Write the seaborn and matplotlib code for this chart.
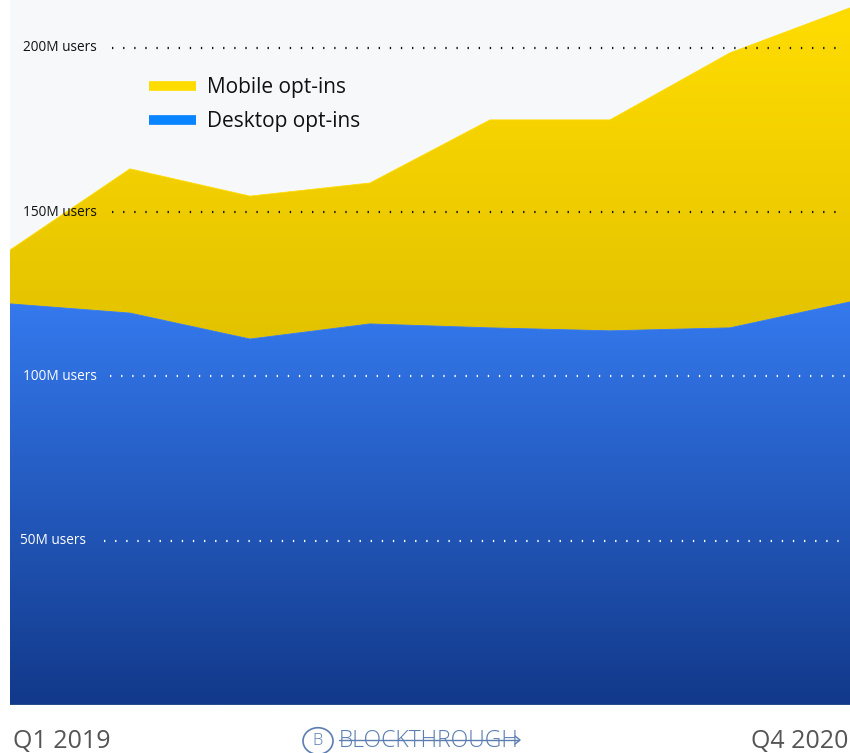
import numpy as np
import matplotlib
matplotlib.use('Agg')
import matplotlib.pyplot as plt
import matplotlib.colors as mcolors
from matplotlib.lines import Line2D
from matplotlib.patches import Circle
import seaborn as sns

# values in millions of users
quarters = ['Q1 2019', 'Q2 2019', 'Q3 2019', 'Q4 2019',
            'Q1 2020', 'Q2 2020', 'Q3 2020', 'Q4 2020']
desktop = [122.1, 119.3, 111.4, 116.0, 114.8, 113.9, 114.8, 122.7]
mobile = [16.4, 43.9, 43.5, 42.9, 63.3, 64.2, 83.7, 89.5]
grid_values = [200, 150, 100, 50]
grid_labels = ['200M users', '150M users', '100M users', '50M users']

sns.set_theme(style='white')
plt.rcParams['font.family'] = ['Open Sans', 'DejaVu Sans']

x = np.arange(len(quarters))
desk = np.array(desktop)
total = desk + np.array(mobile)

fig = plt.figure(figsize=(8.5, 7.53), dpi=100)
ax = fig.add_axes([10 / 850, 48 / 753, 840 / 850, 705 / 753])
ax.set_facecolor('#f7f8fa')
ymax = 214.6
ax.set_xlim(0, len(quarters) - 1)
ax.set_ylim(0, ymax)


def gradient_fill(lower, upper, top_color, bottom_color, y_top, y_bottom):
    poly = ax.fill_between(x, lower, upper, color='none', lw=0)
    n = 256
    ys = np.linspace(ymax, 0, n)
    t = np.clip((y_top - ys) / (y_top - y_bottom), 0, 1)
    c1 = np.array(mcolors.to_rgb(top_color))
    c2 = np.array(mcolors.to_rgb(bottom_color))
    img = (c1[None, :] * (1 - t[:, None]) + c2[None, :] * t[:, None])
    img = np.repeat(img[:, None, :], 2, axis=1)
    im = ax.imshow(img, extent=[0, len(quarters) - 1, 0, ymax],
                   aspect='auto', zorder=1, interpolation='bilinear')
    im.set_clip_path(poly.get_paths()[0], ax.transData)


gradient_fill(desk, total, '#ffdc00', '#e3c200', 212, 112)
gradient_fill(np.zeros_like(desk), desk, '#3479ee', '#12398a', 122, 0)

sns.lineplot(x=x, y=total, ax=ax, color='#ffdc00', lw=0.6, zorder=2)
sns.lineplot(x=x, y=desk, ax=ax, color='#3479ee', lw=0.6, zorder=2)

# dotted gridlines with labels
px = 1 / 840 * (len(quarters) - 1)
label_x = [23, 23, 23, 20]
dot_start = [112, 112, 110, 104]
dot_end = [845, 845, 845, 840]
for v, lab, lx, ds, de in zip(grid_values, grid_labels, label_x, dot_start, dot_end):
    col = '#111111' if v >= 150 else 'white'
    ax.plot([(ds - 10) * px, (de - 10) * px], [v, v], color=col, lw=1.6,
            ls=(0, (0.6, 4.4)), zorder=3, solid_capstyle='butt')
    ax.text((lx - 10) * px, v, lab, color=col, fontsize=9.8,
            va='center', ha='left', zorder=4)

ax.axhline(0, color='#9aa39a', lw=1, zorder=3)

handles = [Line2D([0], [0], color='#ffdc00', lw=7, solid_capstyle='butt'),
           Line2D([0], [0], color='#0a84ff', lw=7, solid_capstyle='butt')]
leg = ax.legend(handles, ['Mobile opt-ins', 'Desktop opt-ins'],
                loc='upper left', bbox_to_anchor=(131 / 840, 1 - 69 / 705),
                frameon=False, fontsize=15, handlelength=2.25,
                handletextpad=0.5, labelspacing=0.62, borderaxespad=0)
for t in leg.get_texts():
    t.set_color('#111111')

ax.set_xticks([])
ax.set_yticks([])
for s in ax.spines.values():
    s.set_visible(False)

# bottom labels
fig.text(13 / 850, 1 - 748 / 753, quarters[0], fontsize=18, color='#555555',
         ha='left', va='baseline')
fig.text(848 / 850, 1 - 748 / 753, quarters[-1], fontsize=18, color='#555555',
         ha='right', va='baseline')

# logo
logo_col = '#5b7db1'
fig.patches.append(Circle((318 / 850, 1 - 741 / 753), 15 / 850, fill=False,
                          edgecolor=logo_col, lw=1.2,
                          transform=fig.transFigure))
fig.text(318 / 850, 1 - 741 / 753, 'B', fontsize=12, color=logo_col,
         ha='center', va='center', fontweight='light')
fig.text(339 / 850, 1 - 741 / 753, 'BLOCKTHROUGH', fontsize=16.5, color=logo_col,
         ha='left', va='center', fontweight='light')
fig.add_artist(Line2D([339 / 850, 519 / 850], [1 - 740 / 753, 1 - 740 / 753],
                      color=logo_col, lw=1, transform=fig.transFigure))
fig.add_artist(Line2D([515 / 850, 520 / 850, 515 / 850],
                      [1 - 736 / 753, 1 - 740 / 753, 1 - 744 / 753],
                      color=logo_col, lw=1, transform=fig.transFigure))

fig.savefig('out.png', dpi=100, facecolor='white')
